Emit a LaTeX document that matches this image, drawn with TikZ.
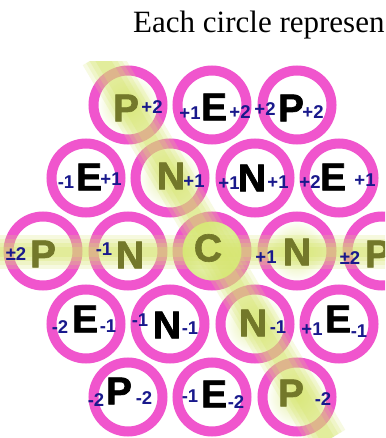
\documentclass[tikz,border=0pt]{standalone}
\usepackage{fontspec}
\setmainfont{Liberation Serif}
\newfontfamily\lsans{Liberation Sans}
\newfontfamily\lheavy{Liberation Sans}[BoldFeatures={FakeBold=1.6}]
\definecolor{ringc}{RGB}{240,85,205}
\definecolor{bandc}{RGB}{215,230,110}
\definecolor{glowc}{RGB}{226,238,155}
\definecolor{labc}{RGB}{25,25,140}
\definecolor{olivec}{RGB}{115,120,42}
\begin{document}
\begin{tikzpicture}[x=1pt,y=-1pt,
  ring/.style={draw=ringc, line width=10pt},
  letblk/.style={font=\lheavy\bfseries\fontsize{39}{39}\selectfont, text=black, inner sep=0pt},
  letgrn/.style={letblk, text=olivec},
  lab/.style={font=\lsans\bfseries\fontsize{18.5}{18.5}\selectfont, text=labc, inner sep=0pt},
  glow/.style={inner color=glowc, outer color=white},
  title/.style={font=\fontsize{31}{31}\selectfont, inner sep=0pt, anchor=base west}]
\clip (0,0) rectangle (385,438);
\fill[white] (0,0) rectangle (385,438);
% circle centres
\coordinate (a1) at (128,105); \coordinate (a2) at (212,105); \coordinate (a3) at (297,105);
\coordinate (b1) at (86,178);  \coordinate (b2) at (170,178); \coordinate (b3) at (255,178); \coordinate (b4) at (339,178);
\coordinate (c1) at (43,251);  \coordinate (c2) at (128,251); \coordinate (c3) at (212,251); \coordinate (c4) at (297,251); \coordinate (c5) at (382,251);
\coordinate (d1) at (86,324);  \coordinate (d2) at (170,324); \coordinate (d3) at (255,324); \coordinate (d4) at (339,324);
\coordinate (e1) at (128,397); \coordinate (e2) at (212,397); \coordinate (e3) at (297,397);
% glows
\foreach \c in {a1,b2,c4,d3,e3} \shade[glow] (\c) circle (31);
\shade[inner color={rgb,255:red,242;green,246;blue,205}, outer color={rgb,255:red,218;green,234;blue,140}] (c3) circle (31);
% rings
\foreach \c in {a1,a2,a3,b1,b2,b3,b4,c1,c2,c3,c4,c5,d1,d2,d3,d4,e1,e2,e3}
  \draw[ring] (\c) circle (34.5);
% bands
\coordinate (dg1) at (100,55); \coordinate (dg2) at (328,440);
\coordinate (hz1) at (-5,252); \coordinate (hz2) at (390,252);
\begin{scope}
\clip (0,62) rectangle (385,438);
\foreach \w/\o in {40/0.2,32/0.22,24/0.25,14/0.3}
  \draw[draw=bandc, line width=\w pt, opacity=\o] (dg1) -- (dg2);
\end{scope}
\foreach \w/\o in {34/0.22,26/0.22,18/0.28,10/0.3}
  \draw[draw=bandc, line width=\w pt, opacity=\o] (hz1) -- (hz2);
% title
\node[title] (ttl) at (133,33) {Each circle represen};
% letters
\node[letgrn] (la1) at (126,108) {P};
\node[letblk] (la2) at (214,107) {E};
\node[letblk] (la3) at (291,108) {P};
\node[letblk] (lb1) at (89,177) {E};
\node[letgrn] (lb2) at (171,176) {N};
\node[letblk] (lb3) at (252,178) {N};
\node[letblk] (lb4) at (333,177) {E};
\node[letgrn] (lc1) at (43,254) {P};
\node[letgrn] (lc2) at (130,255) {N};
\node[letgrn] (lc3) at (208,248) {C};
\node[letgrn] (lc4) at (297,252) {N};
\node[letgrn] (lc5) at (378,254) {P};
\node[letblk] (ld1) at (85,319) {E};
\node[letblk] (ld2) at (167,325) {N};
\node[letgrn] (ld3) at (253,323) {N};
\node[letblk] (ld4) at (338,319) {E};
\node[letblk] (le1) at (119,391) {P};
\node[letblk] (le2) at (214,394) {E};
\node[letgrn] (le3) at (291,393) {P};
% labels
\node[lab] (ta1r) at (152,107) {+2};
\node[lab] (ta2l) at (190,113) {+1};
\node[lab] (ta2r) at (240,112) {+2};
\node[lab] (ta3l) at (265,109) {+2};
\node[lab] (ta3r) at (313,112) {+2};
\node[lab] (tb1l) at (66,182) {-1};
\node[lab] (tb1r) at (111,179) {+1};
\node[lab] (tb2r) at (194,181) {+1};
\node[lab] (tb3l) at (229,183) {+1};
\node[lab] (tb3r) at (278,182) {+1};
\node[lab] (tb4l) at (310,182) {+2};
\node[lab] (tb4r) at (365,180) {+1};
\node[lab] (tc1l) at (16,254) {±2};
\node[lab] (tc2l) at (104,249) {-1};
\node[lab] (tc4l) at (266,257) {+1};
\node[lab] (tc5l) at (350,258) {±2};
\node[lab] (td1l) at (60,327) {-2};
\node[lab] (td1r) at (108,326) {-1};
\node[lab] (td2l) at (140,320) {-1};
\node[lab] (td2r) at (190,328) {-1};
\node[lab] (td3r) at (278,327) {-1};
\node[lab] (td4l) at (312,329) {+1};
\node[lab] (td4r) at (359,331) {-1};
\node[lab] (te1l) at (96,400) {-2};
\node[lab] (te1r) at (144,398) {-2};
\node[lab] (te2l) at (190,396) {-1};
\node[lab] (te2r) at (236,402) {-2};
\node[lab] (te3r) at (323,399) {-2};
\end{tikzpicture}
\end{document}
